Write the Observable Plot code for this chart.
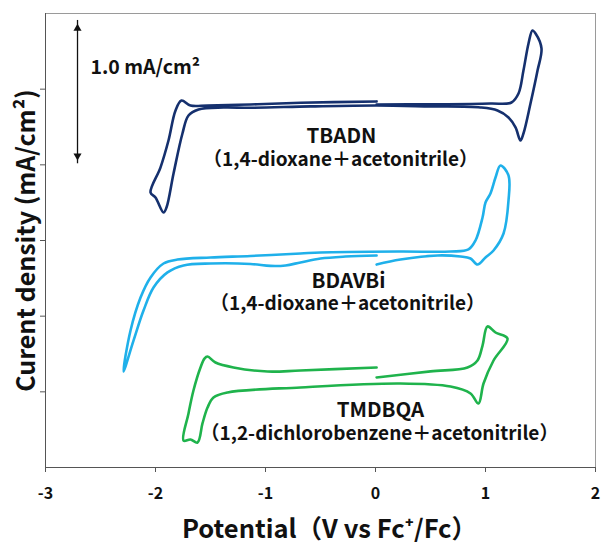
<!DOCTYPE html>
<html><head><meta charset="utf-8">
<script src="https://cdn.jsdelivr.net/npm/d3@7"></script>
<script src="https://cdn.jsdelivr.net/npm/@observablehq/plot@0.6"></script>
<style>
html,body{margin:0;padding:0;background:#fff;}
svg text{font-family:"Noto Sans CJK JP","Noto Sans",sans-serif;}
</style></head><body><div id="chart"></div>
<script>
// Potential (V vs Fc+/Fc) and current density (mA/cm², offset per trace)
const tbadnV = [0.01,0.5,1.045,1.236,1.30,1.345,1.391,1.427,1.455,1.509,1.473,1.409,1.345,1.318,1.273,1.209,1.109,0.955,0.5,0.01,-0.591,-1.136,-1.382,-1.609,-1.70,-1.755,-1.836,-1.90,-1.927,-2.0,-2.045,-1.955,-1.882,-1.818,-1.764,-1.682,-1.527,-1.136,-0.682,0.01];
const tbadnI = [2.399,2.40,2.405,2.412,2.471,2.623,2.802,2.888,2.868,2.769,2.623,2.405,2.207,2.161,2.247,2.313,2.359,2.379,2.386,2.392,2.386,2.377,2.379,2.366,2.326,2.207,1.943,1.718,1.685,1.784,1.817,1.982,2.161,2.359,2.425,2.392,2.392,2.399,2.410,2.419];

const bdavbiV = [0.01,0.227,0.564,0.773,0.864,0.927,1.0,1.073,1.164,1.209,1.209,1.136,1.091,1.045,1.0,0.973,0.909,0.845,0.682,0.227,-0.5,-0.682,-1.136,-1.5,-1.8,-1.927,-2.045,-2.136,-2.227,-2.291,-2.2,-2.109,-2.018,-1.891,-1.745,-1.5,-1.136,-0.955,-0.818,-0.682,-0.5,-0.273,0.01];
const bdavbiI = [1.341,1.374,1.401,1.394,1.381,1.341,1.388,1.434,1.546,1.764,1.930,1.996,1.916,1.811,1.751,1.652,1.50,1.441,1.427,1.427,1.421,1.414,1.398,1.388,1.374,1.348,1.256,1.123,0.905,0.634,0.839,1.037,1.189,1.289,1.335,1.348,1.345,1.332,1.335,1.355,1.381,1.394,1.401];

const tmdbqaV = [0.01,0.5,0.836,0.927,0.973,1.018,1.091,1.20,1.073,0.982,0.936,0.864,0.682,0.227,-0.682,-1.345,-1.473,-1.527,-1.573,-1.618,-1.682,-1.745,-1.70,-1.655,-1.591,-1.555,-1.527,-1.455,-1.291,-0.982,-0.682,0.01];
const tmdbqaI = [0.595,0.635,0.661,0.707,0.806,0.932,0.892,0.852,0.707,0.555,0.423,0.489,0.535,0.555,0.529,0.496,0.463,0.396,0.291,0.165,0.185,0.178,0.357,0.509,0.661,0.720,0.733,0.694,0.661,0.634,0.641,0.661];

const xTicks = [-3,-2,-1,0,1,2];
const yTicks = [0.5,1,1.5,2,2.5];

// scale bar (1.0 mA/cm²)
const barX = [-2.709];
const barTop = [2.954];
const barBottom = [2.007];

const traceNames = ["TBADN","BDAVBi","TMDBQA"];
const solvents = ["（1,4-dioxane＋acetonitrile）","（1,4-dioxane＋acetonitrile）","（1,2-dichlorobenzene＋acetonitrile）"];
const nameX = [-0.309,-0.245,0.045];
const nameY = [2.141,1.189,0.337];
const solvX = [-0.318,-0.255,0.036];
const solvY = [1.989,1.044,0.185];

const toRows = (V, I) => V.map((v, i) => ({V: v, I: I[i]}));
const names = traceNames.map((n, i) => ({t: n, x: nameX[i], y: nameY[i]}));
const solv = solvents.map((n, i) => ({t: n, x: solvX[i], y: solvY[i]}));
const bar = barX.map((x, i) => ({x, top: barTop[i], bottom: barBottom[i]}));

const chart = Plot.plot({
  width: 601, height: 542,
  marginLeft: 45, marginRight: 6, marginTop: 13, marginBottom: 75,
  x: {domain: [-3, 2]},
  y: {domain: [0, 3]},
  style: {fontFamily: '"Noto Sans CJK JP","Noto Sans",sans-serif', background: "#fff", overflow: "visible"},
  marks: [
    Plot.frame({stroke: "#9a9a9a"}),
    Plot.axisX({ticks: xTicks, tickFormat: d => String(d), tickSize: 5, tickPadding: 15, fontSize: 16, fontWeight: "bold", stroke: "#555", fill: "#111", label: null}),
    Plot.axisY({ticks: yTicks, tickFormat: () => "", tickSize: 5, stroke: "#555", label: null}),
    Plot.ruleX([-3], {stroke: "#555"}),
    Plot.ruleY([0], {stroke: "#555"}),
    Plot.line(toRows(tbadnV, tbadnI), {x: "V", y: "I", stroke: "#15306e", strokeWidth: 2.6, curve: "catmull-rom"}),
    Plot.line(toRows(bdavbiV, bdavbiI), {x: "V", y: "I", stroke: "#1fb0ea", strokeWidth: 2.6, curve: "catmull-rom"}),
    Plot.line(toRows(tmdbqaV, tmdbqaI), {x: "V", y: "I", stroke: "#1fb34c", strokeWidth: 2.6, curve: "catmull-rom"}),
    Plot.ruleX(bar, {x: "x", y1: "top", y2: "bottom", stroke: "#111", strokeWidth: 1.3}),
    Plot.dot(bar, {x: "x", y: "top", symbol: "triangle", r: 3, fill: "#111", stroke: null, dy: 8}),
    Plot.dot(bar, {x: "x", y: "bottom", symbol: "triangle", r: 3, fill: "#111", stroke: null, rotate: 180, dy: -8}),
    Plot.text(["1.0 mA/cm²"], {x: barX[0] + 0.118, y: barTop[0] - 0.357, text: d => d, textAnchor: "start", lineAnchor: "bottom", fontSize: 19.5, fontWeight: 600, fill: "#111"}),
    Plot.text(names, {x: "x", y: "y", text: "t", lineAnchor: "bottom", fontSize: 20.5, fontWeight: "bold", fill: "#111"}),
    Plot.text(solv, {x: "x", y: "y", text: "t", lineAnchor: "bottom", fontSize: 19, fontWeight: 600, fill: "#111"}),
    Plot.text(["Potential（V vs Fc⁺/Fc）"], {frameAnchor: "bottom", text: d => d, textAnchor: "middle", dx: 9, dy: 70, lineAnchor: "bottom", fontSize: 25.5, fontWeight: "bold", fill: "#111"}),
    Plot.text(["Curent density (mA/cm²)"], {frameAnchor: "left", text: d => d, textAnchor: "middle", rotate: -90, dx: -19, lineAnchor: "middle", fontSize: 25, fontWeight: "bold", fill: "#111"})
  ]
});
document.getElementById("chart").appendChild(chart);
</script>
</body></html>
